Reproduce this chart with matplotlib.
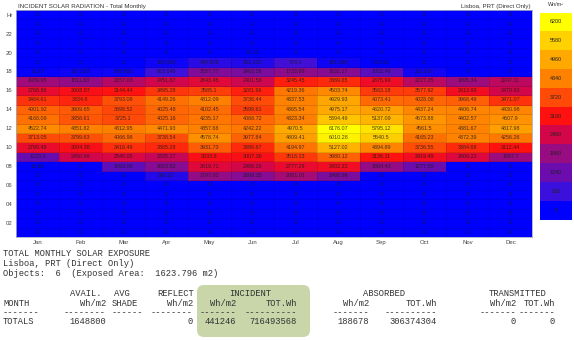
import numpy as np
import matplotlib
matplotlib.use("Agg")
import matplotlib.pyplot as plt
from matplotlib.colors import LinearSegmentedColormap, Normalize
from matplotlib.patches import FancyBboxPatch, Rectangle

months = ["Jan", "Feb", "Mar", "Apr", "May", "Jun",
          "Jul", "Aug", "Sep", "Oct", "Nov", "Dec"]
hours = list(range(1, 25))
# rows that receive sun, top (evening) to bottom (morning)
day_hours = [20, 19, 18, 17, 16, 15, 14, 13, 12, 11, 10, 9, 8, 7]

jan = [0, 0, 71.27, 1939.95, 2768.86, 3484.61, 4001.92, 4168.09, 4522.74, 3713.05, 2799.48, 1233.9, 12.86, 0]
feb = [0, 0, 127.223, 1811.83, 3008.97, 3334.8, 3909.65, 3858.61, 4351.82, 3799.63, 3004.38, 2450.66, 0, 0]
mar = [0, 0, 165.953, 2157.03, 3144.44, 3793.08, 3698.52, 3725.1, 4312.95, 4066.98, 3416.49, 2546.05, 1093.06, 0]
apr = [0, 168.588, 663.545, 2451.87, 3495.28, 4149.26, 4025.48, 4025.16, 4471.93, 3738.54, 3365.28, 2335.17, 1603.82, 366.12]
may = [0, 459.808, 1557.77, 2643.45, 3585.1, 4312.09, 4102.45, 4235.17, 4357.68, 4578.74, 3931.73, 3033.8, 2619.71, 1797.02]
jun = [13.12, 381.232, 1463.38, 2401.58, 3281.96, 3738.44, 3599.61, 4068.72, 4242.22, 3977.84, 3386.67, 3007.36, 2486.29, 1608.15]
jul = [0, 714.1, 1733.89, 3245.45, 4219.36, 4337.53, 4365.54, 4323.34, 4970.5, 4809.41, 4194.97, 3518.13, 2777.29, 2001.01]
aug = [0, 181.098, 1632.17, 3369.65, 4503.74, 4929.93, 4975.17, 5394.49, 6176.07, 6010.28, 5127.02, 3980.12, 2902.22, 1480.96]
sep = [0, 24.016, 1052.46, 2875.99, 3583.18, 4073.41, 4820.72, 5137.09, 5795.12, 5540.5, 4394.89, 3136.11, 1804.43, 0]
oct_ = [0, 0, 211.627, 2227.35, 3577.92, 4028.08, 4437.24, 4673.88, 4561.5, 4165.23, 3736.55, 2919.49, 1277.55, 0]
nov = [0, 0, 0, 1895.34, 2913.99, 3968.49, 4406.74, 4402.57, 4381.67, 4372.39, 3384.68, 2606.22, 0, 0]
dec = [0, 0, 0, 2247.11, 2479.93, 3471.07, 4430.98, 4607.9, 4817.98, 4256.26, 3112.44, 1897.7, 0, 0]
month_values = [jan, feb, mar, apr, may, jun, jul, aug, sep, oct_, nov, dec]

legend_levels = [0, 620, 1240, 1860, 2480, 3100, 3720, 4340, 4960, 5580, 6200]
legend_colors = ["#0000ff", "#3c10dc", "#6a0cae", "#980c80", "#d4064a", "#ff1010",
                 "#ff4a08", "#ff8000", "#ffa800", "#ffd000", "#ffff00"]

# table under the chart
head_top = ["AVAIL.", "AVG", "REFLECT", "INCIDENT", "ABSORBED", "TRANSMITTED"]
head_cols = ["Wh/m2", "SHADE", "Wh/m2", "Wh/m2", "TOT.Wh", "Wh/m2", "TOT.Wh", "Wh/m2", "TOT.Wh"]
dash_len = [8, 6, 8, 7, 10, 7, 10, 7, 7]
totals = ["1648800", "", "0", "441246", "716493568", "188678", "306374304", "0", "0"]

W, H = 574, 340
fig = plt.figure(figsize=(W / 100, H / 100), dpi=100)


def px_box(x0, y0, x1, y1):
    return [x0 / W, 1 - y1 / H, (x1 - x0) / W, (y1 - y0) / H]


Z = np.zeros((24, 12))
for m, vals in enumerate(month_values):
    for h, v in zip(day_hours, vals):
        Z[h - 1, m] = v

cmap = LinearSegmentedColormap.from_list(
    "solar", list(zip(np.array(legend_levels) / 6200, legend_colors)))
norm = Normalize(0, 6200)

ax = fig.add_axes(px_box(16, 10, 532, 237))
ax.pcolormesh(np.arange(13), np.arange(0.5, 25), Z, cmap=cmap, norm=norm,
              edgecolors=(0, 0, 0, 0.12), linewidth=0.4)
for i, h in enumerate(hours):
    for j in range(12):
        ax.text(j + 0.5, h, f"{Z[i, j]:g}", ha="center", va="center",
                fontsize=3.9, family="Liberation Sans", color=(0.1, 0.1, 0.1, 0.8))
ax.set_xlim(0, 12)
ax.set_ylim(0.5, 24.5)
ax.set_xticks(np.arange(12) + 0.5)
ax.set_xticklabels(months, fontsize=4.3, family="Liberation Sans", color="#444444")
ax.set_yticks(list(range(2, 23, 2)) + [24])
ax.set_yticklabels([f"{h:02d}" for h in range(2, 23, 2)] + ["Hr"],
                   fontsize=4.3, family="Liberation Sans", color="#444444")
ax.tick_params(length=0, pad=2.5)
for s in ax.spines.values():
    s.set_color("#a8a8c8")
    s.set_linewidth(0.6)

# colour key
lg = fig.add_axes(px_box(540, 12.5, 572, 219.5))
for k, lev in enumerate(legend_levels):
    lg.add_patch(Rectangle((0, k), 1, 1, fc=cmap(norm(lev)), ec="none"))
    lg.text(0.5, k + 0.5, str(lev), ha="center", va="center", fontsize=3.9,
            family="Liberation Sans", color="#222222")
lg.set_xlim(0, 1)
lg.set_ylim(0, len(legend_levels))
lg.axis("off")

# overlay in pixel coordinates for the text block
tx = fig.add_axes([0, 0, 1, 1])
tx.set_xlim(0, W)
tx.set_ylim(H, 0)
tx.axis("off")

tx.text(18, 6.5, "INCIDENT SOLAR RADIATION - Total Monthly", fontsize=4.4,
        family="Liberation Sans", color="#333333", va="center")
tx.text(531, 6.5, "Lisboa, PRT (Direct Only)", fontsize=4.4,
        family="Liberation Sans", color="#333333", va="center", ha="right")
tx.text(556, 4.5, "Wh/m²", fontsize=3.9, family="Liberation Sans",
        color="#333333", va="center", ha="center")

tx.add_patch(FancyBboxPatch((197, 285), 113, 52,
                            boxstyle="round,pad=0,rounding_size=7",
                            fc="#c8d6aa", ec="none"))

mono = dict(family="Liberation Mono", fontsize=6.3, color="#333333", va="center")
tx.text(3, 254, "TOTAL MONTHLY SOLAR EXPOSURE", **mono)
tx.text(3, 264, "Lisboa, PRT (Direct Only)", **mono)
tx.text(3, 273.5, "Objects:  6  (Exposed Area:  1623.796 m2)", **mono)

top_x = [86, 122, 176, 250, 384, 518]
for x, t in zip(top_x, head_top):
    tx.text(x, 293, t, ha="center", **mono)

col_right = [106, 143, 193, 236, 297, 369, 437, 516, 555]
tx.text(3, 303, "MONTH", **mono)
tx.text(3, 312.5, "-------", **mono)
tx.text(3, 322, "TOTALS", **mono)
for x, h, n, v in zip(col_right, head_cols, dash_len, totals):
    hx = x - 5 if h == "SHADE" else x
    tx.text(hx, 303, h, ha="right", **mono)
    tx.text(x, 312.5, "-" * n, ha="right", **mono)
    tx.text(x, 322, v, ha="right", **mono)

fig.savefig("out.png", dpi=100)
